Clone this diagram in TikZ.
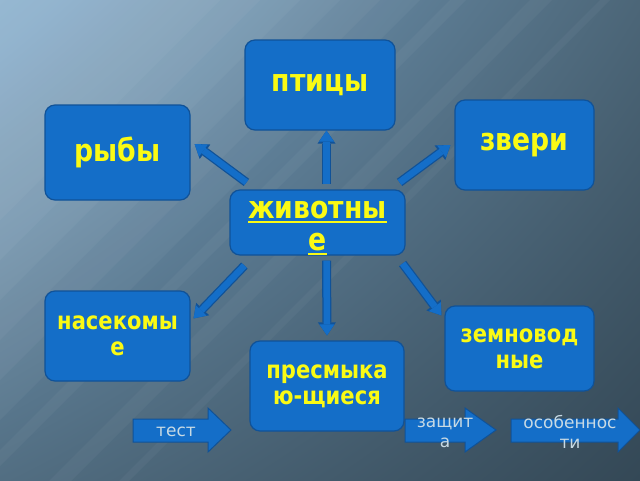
\documentclass[tikz,border=0pt]{standalone}
\usepackage{fontspec}
\setmainfont{DejaVu Sans}
\newfontfamily\boxfont{DejaVu Sans}[FakeStretch=0.86]
\usetikzlibrary{arrows.meta,shadings}

\definecolor{boxblue}{RGB}{20,110,200}
\definecolor{edgeblue}{RGB}{16,82,152}
\definecolor{txtyellow}{RGB}{250,250,20}
\definecolor{btntext}{RGB}{200,218,228}
\definecolor{bgul}{RGB}{125,168,202}
\definecolor{bgur}{RGB}{76,102,120}
\definecolor{bgll}{RGB}{82,110,130}
\definecolor{bglr}{RGB}{52,72,86}

\newcommand\uln[1]{\vtop{\hbox{#1}\kern2pt\hrule height 2pt}}

\tikzset{
	box/.style={draw=edgeblue, fill=boxblue, line width=1.2pt, rounded corners=10pt,
		inner sep=0pt, align=center, text=txtyellow},
	big/.style={font=\boxfont\fontsize{31}{32}\selectfont\bfseries},
	small/.style={font=\boxfont\fontsize{24.5}{26}\selectfont\bfseries},
	conn/.style={line width=6.5pt, draw=boxblue, -{Triangle[length=11pt,width=15pt,line width=0pt]},
		preaction={draw=edgeblue, line width=9pt, -{Triangle[length=13pt,width=18pt,line width=0pt]}}},
	btn/.style={draw=edgeblue, fill=boxblue, line width=1pt},
	btnlabel/.style={text=btntext, align=center, inner sep=0pt, font=\fontsize{17}{20}\selectfont}
}

\begin{document}
\begin{tikzpicture}[x=1pt,y=-1pt]
	\useasboundingbox (0,0) rectangle (640,480);
	\clip (0,0) rectangle (640,480);
	\shade[upper left=bgul, upper right=bgur, lower left=bgll, lower right=bglr] (0,0) rectangle (640,480);
	% light from the top left corner
	\foreach \d in {220,260,...,420}
	{ \fill[white, opacity=0.04] (0,0) -- (\d,0) -- (0,\d) -- cycle;
	}
	\foreach \s/\w in {450/16, 530/22, 600/10}
	{ \fill[white, opacity=0.04] (0,\s) -- (\s,0) -- (\s+\w,0) -- (0,\s+\w) -- cycle;
	}

	% boxes
	\node[box, big, minimum width=150, minimum height=90] (birds) at (320,85) {птицы};
	\node[box, big, minimum width=145, minimum height=95] (fish) at (117.5,152.5) {рыбы};
	\node[box, big, minimum width=139, minimum height=90] (beasts) at (524.5,145) {звери};
	\node[box, minimum width=175, minimum height=65] (anim) at (317.5,222.5) {};
	\node[big, text=txtyellow, align=center, inner sep=0pt] (animtxt) at (317.5,228) {\uln{животны}\\\uln{е}};
	\node[box, small, minimum width=145, minimum height=90] (insects) at (117.5,336) {насекомы\\е};
	\node[box, small, minimum width=154, minimum height=90] (reptiles) at (327,386) {пресмыка\\ю-щиеся};
	\node[box, small, minimum width=149, minimum height=85] (amph) at (519.5,348.5) {земновод\\ные};

	% connectors
	\draw[conn] ([xshift=9pt,yshift=5pt]anim.north) -- ([xshift=6.5pt]birds.south);
	\draw[conn] ([xshift=17pt,yshift=7pt]anim.north west) -- ([xshift=4pt,yshift=8.5pt]fish.east);
	\draw[conn] ([xshift=-6pt,yshift=7pt]anim.north east) -- ([xshift=-4pt]beasts.west);
	\draw[conn] ([xshift=15pt,yshift=-10pt]anim.south west) -- ([xshift=3pt,yshift=-28pt]insects.north east);
	\draw[conn] ([xshift=9pt,yshift=-5pt]anim.south) -- ([yshift=5pt]reptiles.north);
	\draw[conn] ([xshift=-3pt,yshift=-8pt]anim.south east) -- ([xshift=-3pt,yshift=-10pt]amph.north west);

	% buttons
	\foreach \a/\b/\c in {133/208/231, 405/465/496, 511/618/640}
	{ \draw[btn] (\a,419) -- (\b,419) -- (\b,408) -- (\c,430) -- (\b,452) -- (\b,442) -- (\a,442) -- cycle;
	}
	\node[btnlabel] (test) at (176,432) {тест};
	\node[btnlabel] (protect) at (445,433) {защит\\а};
	\node[btnlabel] (features) at (570,431.5) {особеннос\\ти};
\end{tikzpicture}
\end{document}
